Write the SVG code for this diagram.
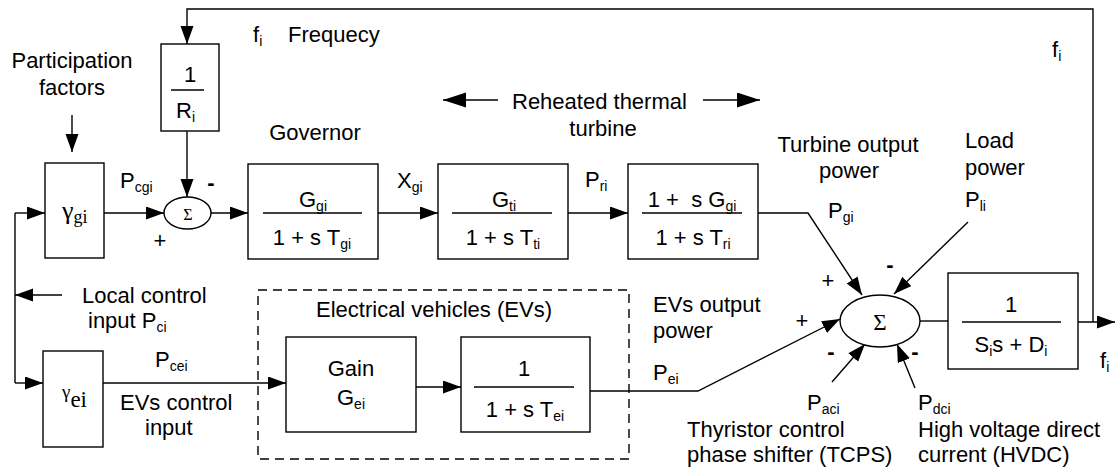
<svg xmlns="http://www.w3.org/2000/svg" width="1115" height="474" viewBox="0 0 1115 474">
<defs>
<marker id="ah" markerUnits="userSpaceOnUse" markerWidth="19" markerHeight="14" refX="18" refY="6.5" orient="auto">
<path d="M0,0 L18,6.5 L0,13 z" fill="#000"/>
</marker>
<marker id="ahL" markerUnits="userSpaceOnUse" markerWidth="24" markerHeight="16" refX="23" refY="7.5" orient="auto">
<path d="M0,0 L23,7.5 L0,15 z" fill="#000"/>
</marker>
<style>
.b{fill:#fff;stroke:#000;stroke-width:1.4}
.ln{fill:none;stroke:#000;stroke-width:1.4}
.ar{marker-end:url(#ah)}
.arL{marker-end:url(#ahL)}
.fr{stroke:#000;stroke-width:1.4}
text{font-family:"Liberation Sans",Arial,sans-serif;font-size:22px;fill:#000}
.m{text-anchor:middle}
.sub{font-size:14px}
.sr{font-family:"Liberation Serif","Times New Roman",serif}
.sg{font-weight:bold}
</style>
</defs>
<rect width="1115" height="474" fill="#fff"/>

<g id="connectors">
<path class="ln ar" d="M1093,322 V9 H187 V44"/>
<path class="ln ar" d="M187,131 V197"/>
<path class="ln ar" d="M104,213 H164"/>
<path class="ln ar" d="M211,213 H248"/>
<path class="ln ar" d="M378,213 H438"/>
<path class="ln ar" d="M568,213 H628"/>
<path class="ln ar" d="M758,213 H808 L862,295"/>
<path class="ln ar" d="M968,222 L894,294"/>
<path class="ln ar" d="M590,391 H698 L840,319"/>
<path class="ln ar" d="M832,382 L865,344"/>
<path class="ln ar" d="M915,388 L897,344"/>
<path class="ln" d="M920,321 H948"/>
<path class="ln ar" d="M1078,322 H1115"/>
<path class="ln" d="M15,213 V383"/>
<path class="ln ar" d="M15,213 H45"/>
<path class="ln ar" d="M15,383 H43"/>
<path class="ln ar" d="M62,295 H15"/>
<path class="ln ar" d="M72,115 V152"/>
<path class="ln ar" d="M103,383 H286"/>
<path class="ln ar" d="M416,387 H461"/>
<path class="ln arL" d="M498,100 H443"/>
<path class="ln arL" d="M703,100 H760"/>
</g>

<g id="ev-group">
<rect x="258" y="290" width="371" height="169" fill="none" stroke="#000" stroke-width="1.4" stroke-dasharray="9,6"/>
<text class="m" x="434" y="317">Electrical vehicles (EVs)</text>
</g>

<g id="droop">
<rect class="b" x="161" y="44" width="58" height="87"/>
<text class="m" x="190" y="82">1</text>
<line class="fr" x1="171" y1="90" x2="204" y2="90"/>
<text x="176" y="118">R<tspan class="sub" dy="4">i</tspan></text>
</g>

<g id="sum1">
<ellipse class="b" cx="187.5" cy="213" rx="23.5" ry="16"/>
<text class="m sr" x="188" y="220" style="font-size:16px">Σ</text>
</g>

<g id="gamma-g">
<rect class="b" x="45" y="163" width="59" height="95"/>
<text class="sr" x="62" y="219" style="font-size:26px">γ<tspan dy="4" style="font-size:18px">gi</tspan></text>
</g>

<g id="gamma-e">
<rect class="b" x="43" y="351" width="60" height="96"/>
<text class="sr" x="62" y="398" style="font-size:19px">γ<tspan dy="9" style="font-size:23px">ei</tspan></text>
</g>

<g id="governor">
<rect class="b" x="248" y="164" width="130" height="95"/>
<text class="m" x="313" y="207">G<tspan class="sub" dy="4">gi</tspan></text>
<line class="fr" x1="263" y1="213" x2="362" y2="213"/>
<text class="m" x="312" y="245">1 + s T<tspan class="sub" dy="4">gi</tspan></text>
</g>

<g id="turbine">
<rect class="b" x="438" y="164" width="130" height="95"/>
<text class="m" x="504" y="207">G<tspan class="sub" dy="4">ti</tspan></text>
<line class="fr" x1="452" y1="213" x2="552" y2="213"/>
<text class="m" x="503" y="245">1 + s T<tspan class="sub" dy="4">ti</tspan></text>
</g>

<g id="reheater">
<rect class="b" x="628" y="164" width="130" height="95"/>
<text class="m" x="692" y="207" xml:space="preserve">1 +  s G<tspan class="sub" dy="4">gi</tspan></text>
<line class="fr" x1="642" y1="213" x2="742" y2="213"/>
<text class="m" x="693" y="245">1 + s T<tspan class="sub" dy="4">ri</tspan></text>
</g>

<g id="gain">
<rect class="b" x="286" y="337" width="130" height="95"/>
<text class="m" x="351" y="376">Gain</text>
<text class="m" x="351" y="405">G<tspan class="sub" dy="4">ei</tspan></text>
</g>

<g id="ev-lag">
<rect class="b" x="461" y="337" width="129" height="95"/>
<text class="m" x="524" y="376">1</text>
<line class="fr" x1="474" y1="387" x2="574" y2="387"/>
<text class="m" x="525" y="417">1 + s T<tspan class="sub" dy="4">ei</tspan></text>
</g>

<g id="sum2">
<ellipse class="b" cx="880" cy="321" rx="40" ry="26"/>
<text class="m sr" x="880" y="330" style="font-size:23px">Σ</text>
</g>

<g id="system">
<rect class="b" x="948" y="273" width="130" height="96"/>
<text class="m" x="1011" y="312">1</text>
<line class="fr" x1="962" y1="322" x2="1061" y2="322"/>
<text class="m" x="1011" y="352">S<tspan class="sub" dy="4">i</tspan><tspan dy="-4">s + D</tspan><tspan class="sub" dy="4">i</tspan></text>
</g>

<g id="labels">
<text x="253" y="42">f<tspan class="sub" dy="4">i</tspan></text>
<text x="288" y="42">Frequecy</text>
<text x="1052" y="57">f<tspan class="sub" dy="4">i</tspan></text>
<text x="1100" y="368">f<tspan class="sub" dy="4">i</tspan></text>
<text class="m" x="72" y="68">Participation</text>
<text class="m" x="72" y="95">factors</text>
<text class="m" x="315" y="140">Governor</text>
<text x="512" y="109">Reheated thermal</text>
<text class="m" x="603" y="136">turbine</text>
<text x="120" y="188">P<tspan class="sub" dy="4">cgi</tspan></text>
<text x="397" y="188">X<tspan class="sub" dy="4">gi</tspan></text>
<text x="585" y="187">P<tspan class="sub" dy="4">ri</tspan></text>
<text class="m" x="848" y="152">Turbine output</text>
<text class="m" x="849" y="178">power</text>
<text x="828" y="218">P<tspan class="sub" dy="4">gi</tspan></text>
<text x="965" y="148">Load</text>
<text x="965" y="175">power</text>
<text x="965" y="207">P<tspan class="sub" dy="4">li</tspan></text>
<text x="82" y="303">Local control</text>
<text x="88" y="328">input P<tspan class="sub" dy="4">ci</tspan></text>
<text x="155" y="367">P<tspan class="sub" dy="4">cei</tspan></text>
<text x="120" y="410">EVs control</text>
<text x="145" y="435">input</text>
<text x="653" y="312">EVs output</text>
<text x="653" y="338">power</text>
<text x="653" y="380">P<tspan class="sub" dy="4">ei</tspan></text>
<text x="807" y="410">P<tspan class="sub" dy="4">aci</tspan></text>
<text x="687" y="437">Thyristor control</text>
<text x="687" y="462">phase shifter (TCPS)</text>
<text x="918" y="410">P<tspan class="sub" dy="4">dci</tspan></text>
<text x="918" y="437">High voltage direct</text>
<text x="918" y="462">current (HVDC)</text>
</g>

<g id="signs">
<text class="m sg" x="211" y="190">-</text>
<text class="m" x="160" y="248">+</text>
<text class="m" x="828" y="288">+</text>
<text class="m" x="802" y="328">+</text>
<text class="m sg" x="890" y="272">-</text>
<text class="m sg" x="831" y="359">-</text>
<text class="m sg" x="915" y="359">-</text>
</g>
</svg>
